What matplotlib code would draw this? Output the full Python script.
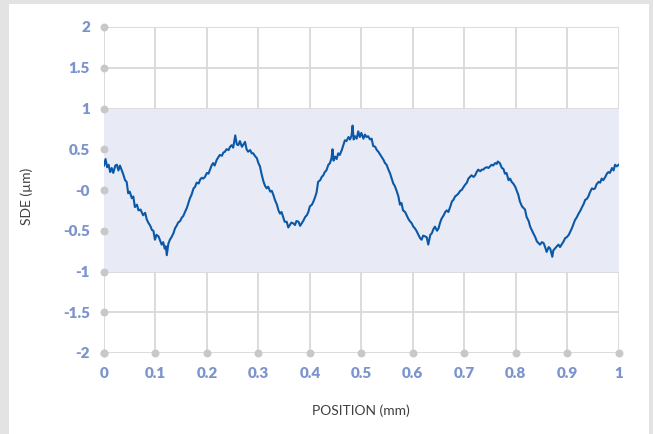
import numpy as np
import matplotlib
matplotlib.use('Agg')
import matplotlib.pyplot as plt
from matplotlib.patches import Rectangle

# values
position = [
    0.000, 0.003, 0.006, 0.009, 0.012, 0.015, 0.018, 0.022, 0.025, 0.028,
    0.031, 0.034, 0.037, 0.041, 0.044, 0.047, 0.050, 0.054, 0.057, 0.060,
    0.064, 0.067, 0.071, 0.076, 0.080, 0.083, 0.086, 0.090, 0.093, 0.096,
    0.099, 0.102, 0.106, 0.109, 0.112, 0.115, 0.118, 0.120, 0.122, 0.125,
    0.128, 0.131, 0.135, 0.138, 0.141, 0.144, 0.148, 0.151, 0.154, 0.158,
    0.161, 0.164, 0.167, 0.170, 0.174, 0.177, 0.180, 0.184, 0.187, 0.190,
    0.193, 0.196, 0.200, 0.203, 0.206, 0.209, 0.212, 0.215, 0.219, 0.222,
    0.225, 0.229, 0.232, 0.235, 0.238, 0.242, 0.245, 0.248, 0.251, 0.255,
    0.258, 0.261, 0.264, 0.268, 0.271, 0.274, 0.277, 0.280, 0.284, 0.287,
    0.290, 0.293, 0.297, 0.300, 0.303, 0.306, 0.310, 0.313, 0.316, 0.319,
    0.323, 0.326, 0.329, 0.332, 0.336, 0.339, 0.342, 0.345, 0.348, 0.351,
    0.355, 0.358, 0.361, 0.364, 0.368, 0.371, 0.374, 0.378, 0.381, 0.384,
    0.387, 0.391, 0.394, 0.397, 0.400, 0.404, 0.407, 0.410, 0.413, 0.416,
    0.420, 0.423, 0.426, 0.429, 0.432, 0.436, 0.439, 0.442, 0.444, 0.446,
    0.449, 0.452, 0.455, 0.458, 0.462, 0.465, 0.468, 0.471, 0.475, 0.478,
    0.481, 0.483, 0.485, 0.488, 0.491, 0.494, 0.497, 0.500, 0.504, 0.507,
    0.510, 0.513, 0.517, 0.520, 0.523, 0.527, 0.530, 0.533, 0.536, 0.540,
    0.543, 0.546, 0.549, 0.552, 0.556, 0.559, 0.562, 0.565, 0.569, 0.572,
    0.575, 0.578, 0.581, 0.585, 0.588, 0.591, 0.594, 0.598, 0.601, 0.604,
    0.607, 0.611, 0.614, 0.617, 0.620, 0.624, 0.627, 0.630, 0.634, 0.637,
    0.640, 0.643, 0.647, 0.650, 0.653, 0.656, 0.660, 0.663, 0.666, 0.669,
    0.673, 0.676, 0.679, 0.682, 0.686, 0.689, 0.692, 0.695, 0.698, 0.701,
    0.705, 0.708, 0.711, 0.714, 0.718, 0.721, 0.724, 0.727, 0.731, 0.734,
    0.737, 0.740, 0.744, 0.747, 0.750, 0.753, 0.756, 0.760, 0.763, 0.765,
    0.769, 0.773, 0.776, 0.779, 0.782, 0.786, 0.789, 0.792, 0.795, 0.799,
    0.802, 0.805, 0.808, 0.812, 0.815, 0.818, 0.821, 0.825, 0.828, 0.831,
    0.834, 0.838, 0.841, 0.844, 0.847, 0.851, 0.854, 0.857, 0.860, 0.864,
    0.867, 0.871, 0.873, 0.876, 0.880, 0.883, 0.886, 0.889, 0.893, 0.896,
    0.899, 0.903, 0.906, 0.909, 0.912, 0.915, 0.919, 0.922, 0.925, 0.928,
    0.932, 0.935, 0.938, 0.941, 0.944, 0.948, 0.951, 0.954, 0.957, 0.961,
    0.964, 0.967, 0.970, 0.974, 0.977, 0.980, 0.983, 0.987, 0.990, 0.993,
    0.996, 1.000,
]
sde = [
    0.30, 0.38, 0.28, 0.31, 0.22, 0.27, 0.21, 0.30, 0.31, 0.24,
    0.30, 0.25, 0.20, 0.12, 0.10, -0.04, -0.02, -0.10, -0.08, -0.21,
    -0.18, -0.25, -0.24, -0.31, -0.28, -0.36, -0.40, -0.44, -0.49, -0.50,
    -0.61, -0.55, -0.57, -0.62, -0.67, -0.64, -0.72, -0.69, -0.80, -0.66,
    -0.61, -0.58, -0.53, -0.47, -0.44, -0.40, -0.38, -0.34, -0.32, -0.26,
    -0.22, -0.16, -0.10, -0.06, 0.02, 0.04, 0.09, 0.08, 0.13, 0.15,
    0.14, 0.16, 0.21, 0.20, 0.25, 0.30, 0.33, 0.30, 0.37, 0.40,
    0.43, 0.42, 0.46, 0.47, 0.50, 0.49, 0.53, 0.55, 0.52, 0.67,
    0.56, 0.55, 0.60, 0.53, 0.56, 0.59, 0.50, 0.47, 0.49, 0.45,
    0.45, 0.42, 0.39, 0.33, 0.29, 0.20, 0.10, 0.05, 0.02, 0.04,
    -0.02, -0.01, -0.06, -0.12, -0.18, -0.25, -0.29, -0.27, -0.33, -0.39,
    -0.39, -0.46, -0.43, -0.40, -0.41, -0.43, -0.38, -0.39, -0.44, -0.41,
    -0.38, -0.33, -0.31, -0.27, -0.20, -0.18, -0.14, -0.09, -0.03, 0.10,
    0.12, 0.16, 0.18, 0.22, 0.24, 0.31, 0.33, 0.39, 0.50, 0.36,
    0.41, 0.38, 0.45, 0.43, 0.49, 0.55, 0.61, 0.60, 0.65, 0.62,
    0.67, 0.79, 0.62, 0.66, 0.63, 0.72, 0.65, 0.70, 0.63, 0.68,
    0.65, 0.66, 0.62, 0.63, 0.54, 0.53, 0.49, 0.47, 0.44, 0.40,
    0.37, 0.33, 0.31, 0.26, 0.20, 0.14, 0.08, 0.05, -0.02, -0.08,
    -0.18, -0.16, -0.25, -0.27, -0.31, -0.35, -0.38, -0.41, -0.45, -0.47,
    -0.50, -0.55, -0.59, -0.61, -0.56, -0.57, -0.58, -0.67, -0.55, -0.53,
    -0.48, -0.45, -0.50, -0.47, -0.40, -0.35, -0.31, -0.27, -0.25, -0.27,
    -0.20, -0.14, -0.12, -0.08, -0.06, -0.04, -0.01, 0.00, 0.03, 0.06,
    0.09, 0.14, 0.16, 0.18, 0.16, 0.18, 0.22, 0.25, 0.23, 0.25,
    0.25, 0.27, 0.28, 0.27, 0.29, 0.31, 0.30, 0.33, 0.32, 0.35,
    0.33, 0.27, 0.26, 0.20, 0.21, 0.12, 0.14, 0.10, 0.08, 0.04,
    -0.01, -0.06, -0.14, -0.20, -0.22, -0.24, -0.33, -0.38, -0.45, -0.49,
    -0.53, -0.58, -0.63, -0.65, -0.67, -0.64, -0.65, -0.70, -0.76, -0.70,
    -0.72, -0.82, -0.74, -0.72, -0.69, -0.67, -0.70, -0.67, -0.63, -0.59,
    -0.58, -0.55, -0.51, -0.47, -0.42, -0.37, -0.33, -0.29, -0.26, -0.22,
    -0.17, -0.12, -0.11, -0.08, -0.03, 0.02, 0.01, 0.02, 0.07, 0.10,
    0.09, 0.14, 0.12, 0.16, 0.20, 0.22, 0.21, 0.27, 0.24, 0.31,
    0.29, 0.31,
]

xticks = [0, 0.1, 0.2, 0.3, 0.4, 0.5, 0.6, 0.7, 0.8, 0.9, 1]
xticklabels = ['0', '0.1', '0.2', '0.3', '0.4', '0.5', '0.6', '0.7', '0.8', '0.9', '1']
yticks = [-2, -1.5, -1, -0.5, 0, 0.5, 1, 1.5, 2]
yticklabels = ['-2', '-1.5', '-1', '-0.5', '-0', '0.5', '1', '1.5', '2']
band = (-1, 1)

tick_color = '#7c94cd'
grid_color = '#d9d9d9'
line_color = '#0b59a6'

plt.rcParams['font.family'] = ['Lato', 'DejaVu Sans']

fig = plt.figure(figsize=(6.53, 4.34), dpi=100)
fig.patch.set_facecolor('#e3e3e3')
fig.patches.append(Rectangle((9 / 653, 0), 640 / 653, 430 / 434,
                             transform=fig.transFigure, facecolor='white',
                             edgecolor='none', zorder=-10))

ax = fig.add_axes([104 / 653, 1 - 353 / 434, 514.7 / 653, 326 / 434])
ax.set_zorder(1)
ax.set_facecolor('white')
ax.set_xlim(0, 1)
ax.set_ylim(-2, 2)

for x in xticks:
    ax.axvline(x, color=grid_color, linewidth=1.3, zorder=1)
for y in yticks:
    ax.axhline(y, color=grid_color, linewidth=1.3, zorder=1)

ax.axhspan(band[0], band[1], xmin=0, xmax=1, facecolor='#e8eaf6',
           edgecolor='none', zorder=2)

ax.plot(position, sde, color=line_color, linewidth=1.5, zorder=4)

# grey dots on the axes at each tick
ax.scatter(xticks, [yticks[0]] * len(xticks), s=22, color='#c8c8c8',
           zorder=5, clip_on=False)
ax.scatter([xticks[0]] * len(yticks), yticks, s=22, color='#c8c8c8',
           zorder=5, clip_on=False)

for s in ax.spines.values():
    s.set_visible(False)

ax.set_xticks(xticks)
ax.set_xticklabels(xticklabels)
ax.set_yticks(yticks)
ax.set_yticklabels(yticklabels)
ax.tick_params(length=0, labelcolor=tick_color, labelsize=11)
ax.tick_params(axis='x', pad=10)
ax.tick_params(axis='y', pad=10)
for lab in ax.get_xticklabels() + ax.get_yticklabels():
    lab.set_fontweight('heavy')

ax.set_xlabel('POSITION (mm)', fontsize=10, color='#404040')
ax.set_ylabel('SDE (µm)', fontsize=10, color='#404040')
ax.xaxis.set_label_coords(0.5, -0.157)
ax.yaxis.set_label_coords(-0.138, 0.48)

fig.savefig('out.png', dpi=100, facecolor=fig.get_facecolor())
